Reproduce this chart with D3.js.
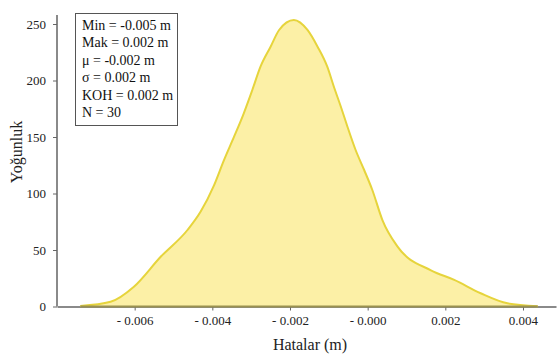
<!DOCTYPE html>
<html>
<head>
<meta charset="utf-8">
<script src="https://cdn.jsdelivr.net/npm/d3@7"></script>
<style>
body { margin: 0; background: #fff; }
text { font-family: "Liberation Serif", "Times New Roman", serif; }
</style>
</head>
<body>
<div id="chart_div"></div>
<script>
var chart_width = 558;
var chart_height = 357;

// density curve
var error_values = [-0.0074, -0.00662, -0.00602, -0.00533, -0.00464, -0.0043, -0.00396, -0.0037,
    -0.00344, -0.00319, -0.00297, -0.00276, -0.0025, -0.00228, -0.0019,
    -0.00155, -0.00129, -0.00104, -0.00087, -0.00069, -0.00052, -0.00031, -0.00009,
    0.00012, 0.00038, 0.00077, 0.00163, 0.00223, 0.00291, 0.0036, 0.00438];
var density_values = [0.5, 4.2, 17.5, 44, 67.7, 84, 107, 129.6,
    150.3, 171, 191.6, 212.2, 229.9, 244.7, 253.5,
    244.7, 229.9, 212.2, 194.5, 176.8, 159.1, 138.5, 120.8,
    103.1, 76.5, 53, 32, 23.5, 11.7, 2.8, 0.3];

var x_ticks = [-0.006, -0.004, -0.002, 0, 0.002, 0.004];
var x_tick_labels = ["- 0.006", "- 0.004", "- 0.002", "- 0.000", "0.002", "0.004"];
var y_ticks = [0, 50, 100, 150, 200, 250];

var stats_lines = ["Min = -0.005 m", "Mak = 0.002 m", "\u03bc = -0.002 m",
    "\u03c3 = 0.002 m", "KOH = 0.002 m", "N = 30"];

var x_label = "Hatalar (m)";
var y_label = "Yoğunluk";

var margin = {left: 57, right: 2, top: 10, bottom: 50};

var x_scale = d3.scaleLinear()
    .domain([-0.008, 0.00485])
    .range([margin.left, chart_width - margin.right]);

var y_scale = d3.scaleLinear()
    .domain([0, 250])
    .range([306.5, 24]);

var svg = d3.select("#chart_div")
    .append("svg")
    .attr("width", chart_width)
    .attr("height", chart_height);

var points = error_values.map(function(d, i) { return [d, density_values[i]]; });

var area = d3.area()
    .x(function(d) { return x_scale(d[0]); })
    .y0(y_scale(0))
    .y1(function(d) { return y_scale(d[1]); })
    .curve(d3.curveMonotoneX);

var line = d3.line()
    .x(function(d) { return x_scale(d[0]); })
    .y(function(d) { return y_scale(d[1]); })
    .curve(d3.curveMonotoneX);

// axes
var x_axis = svg.append("g")
    .attr("transform", "translate(0," + y_scale(0) + ")")
    .call(d3.axisBottom(x_scale)
        .tickValues(x_ticks)
        .tickFormat(function(d, i) { return x_tick_labels[i]; })
        .tickSize(4)
        .tickPadding(5)
        .tickSizeOuter(0));

var y_axis = svg.append("g")
    .attr("transform", "translate(" + margin.left + ",0)")
    .call(d3.axisLeft(y_scale)
        .tickValues(y_ticks)
        .tickSize(4)
        .tickPadding(7)
        .tickSizeOuter(0));

y_axis.select(".domain").attr("d", "M0,15V" + y_scale(0));

[x_axis, y_axis].forEach(function(ax) {
    ax.select(".domain").attr("stroke", "#8a8a8a").attr("stroke-width", 2);
    ax.selectAll(".tick line").attr("stroke", "#666");
    ax.selectAll(".tick text")
        .attr("fill", "#222")
        .style("font-family", "Liberation Serif, serif")
        .style("font-size", "13px");
});

svg.append("path")
    .datum(points)
    .attr("d", area)
    .attr("fill", "#fcf0a6")
    .attr("stroke", "none");

svg.append("path")
    .datum(points)
    .attr("d", line)
    .attr("fill", "none")
    .attr("stroke", "#e6d43c")
    .attr("stroke-width", 2);

// baseline under the filled area
svg.append("line")
    .attr("x1", x_scale(error_values[0]))
    .attr("x2", x_scale(error_values[error_values.length - 1]))
    .attr("y1", y_scale(0))
    .attr("y2", y_scale(0))
    .attr("stroke", "#9a9150")
    .attr("stroke-width", 2);

// stats box
svg.append("rect")
    .attr("x", 75.5)
    .attr("y", 13.5)
    .attr("width", 102)
    .attr("height", 112)
    .attr("fill", "#fff")
    .attr("stroke", "#555")
    .attr("stroke-width", 1);

svg.selectAll(".stat")
    .data(stats_lines)
    .enter()
    .append("text")
    .attr("class", "stat")
    .attr("x", 82)
    .attr("y", function(d, i) { return 30 + i * 17.4; })
    .attr("fill", "#111")
    .style("font-size", "14px")
    .text(function(d) { return d; });

svg.append("text")
    .attr("x", 310)
    .attr("y", 350)
    .attr("text-anchor", "middle")
    .attr("fill", "#222")
    .style("font-size", "16px")
    .text(x_label);

svg.append("text")
    .attr("transform", "translate(22,152) rotate(-90)")
    .attr("text-anchor", "middle")
    .attr("fill", "#222")
    .style("font-size", "16px")
    .text(y_label);
</script>
</body>
</html>
